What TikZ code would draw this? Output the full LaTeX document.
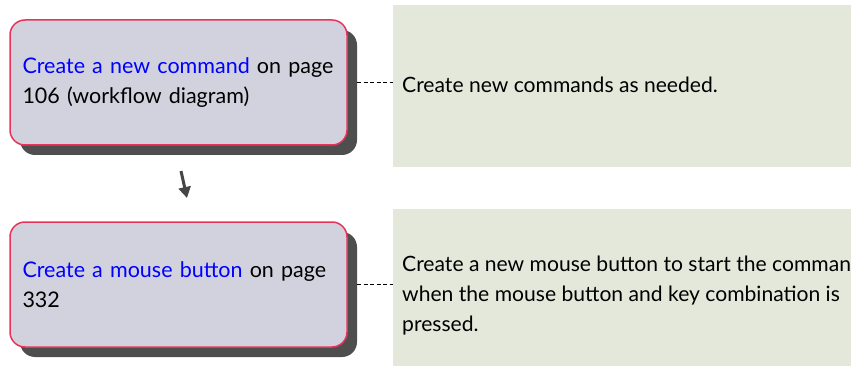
\documentclass[tikz,border=0pt]{standalone}
\usepackage{fontspec}
\setmainfont{Lato}
\usetikzlibrary{arrows.meta}
\definecolor{boxfill}{RGB}{210,210,222}
\definecolor{boxborder}{RGB}{232,52,92}
\definecolor{shadowgray}{RGB}{78,78,78}
\definecolor{panelgreen}{RGB}{228,232,218}
\definecolor{linkblue}{RGB}{0,0,255}
\definecolor{arrowgray}{RGB}{70,70,70}
\begin{document}
\begin{tikzpicture}[x=1pt,y=-1pt,
  txt/.style={font=\fontsize{21.5}{30}\selectfont, text=black},
  cmdbox/.style={txt, draw=boxborder, line width=1.5pt, fill=boxfill, rounded corners=15pt,
    minimum width=337pt, minimum height=125pt, text width=312pt, inner xsep=12.5pt, align=left},
  shadowbox/.style={fill=shadowgray, rounded corners=15pt, minimum width=337pt, minimum height=125pt, inner sep=0pt},
  panel/.style={fill=panelgreen, anchor=north west, minimum width=470pt, inner sep=0pt},
  desc/.style={font=\fontsize{21.1}{30}\selectfont, text=black, align=left, inner sep=0pt},
  link/.style={dashed, dash pattern=on 4pt off 2.5pt, line width=1.3pt, black},
  flowarrow/.style={draw=arrowgray, line width=3pt, -{Triangle[length=11pt,width=12pt]}}
]
\useasboundingbox (0,0) rectangle (851,366);
\clip (0,0) rectangle (851,366);
% panels
\node[panel, minimum height=162pt] (p1) at (393,5) {};
\node[panel, minimum height=170pt] (p2) at (393,209) {};
% shadows
\node[shadowbox] (s1) at (188.5,92.5) {};
\node[shadowbox] (s2) at (188.5,294.5) {};
% boxes
\node[cmdbox] (b1) at (178.5,82.5) {{\color{linkblue}Create a new command} on page\\106 (workflow diagram)};
\node[cmdbox] (b2) at (178.5,284.5) {{\color{linkblue}Create a mouse button} on page\\332};
% descriptions
\node[desc, anchor=base west] (d1) at (402,93) {Create new commands as needed.};
\node[desc, anchor=west] (d2) at (402,296) {Create a new mouse button to start the command\\when the mouse button and key combination is\\pressed.};
% connectors
\draw[link] (s1.east |- b1.east) -- (p1.west |- b1.east);
\draw[link] (s2.east |- b2.east) -- (p2.west |- b2.east);
\coordinate (a1) at (181,171);
\coordinate (a2) at (187,198);
\draw[flowarrow] (a1) -- (a2);
\end{tikzpicture}
\end{document}
